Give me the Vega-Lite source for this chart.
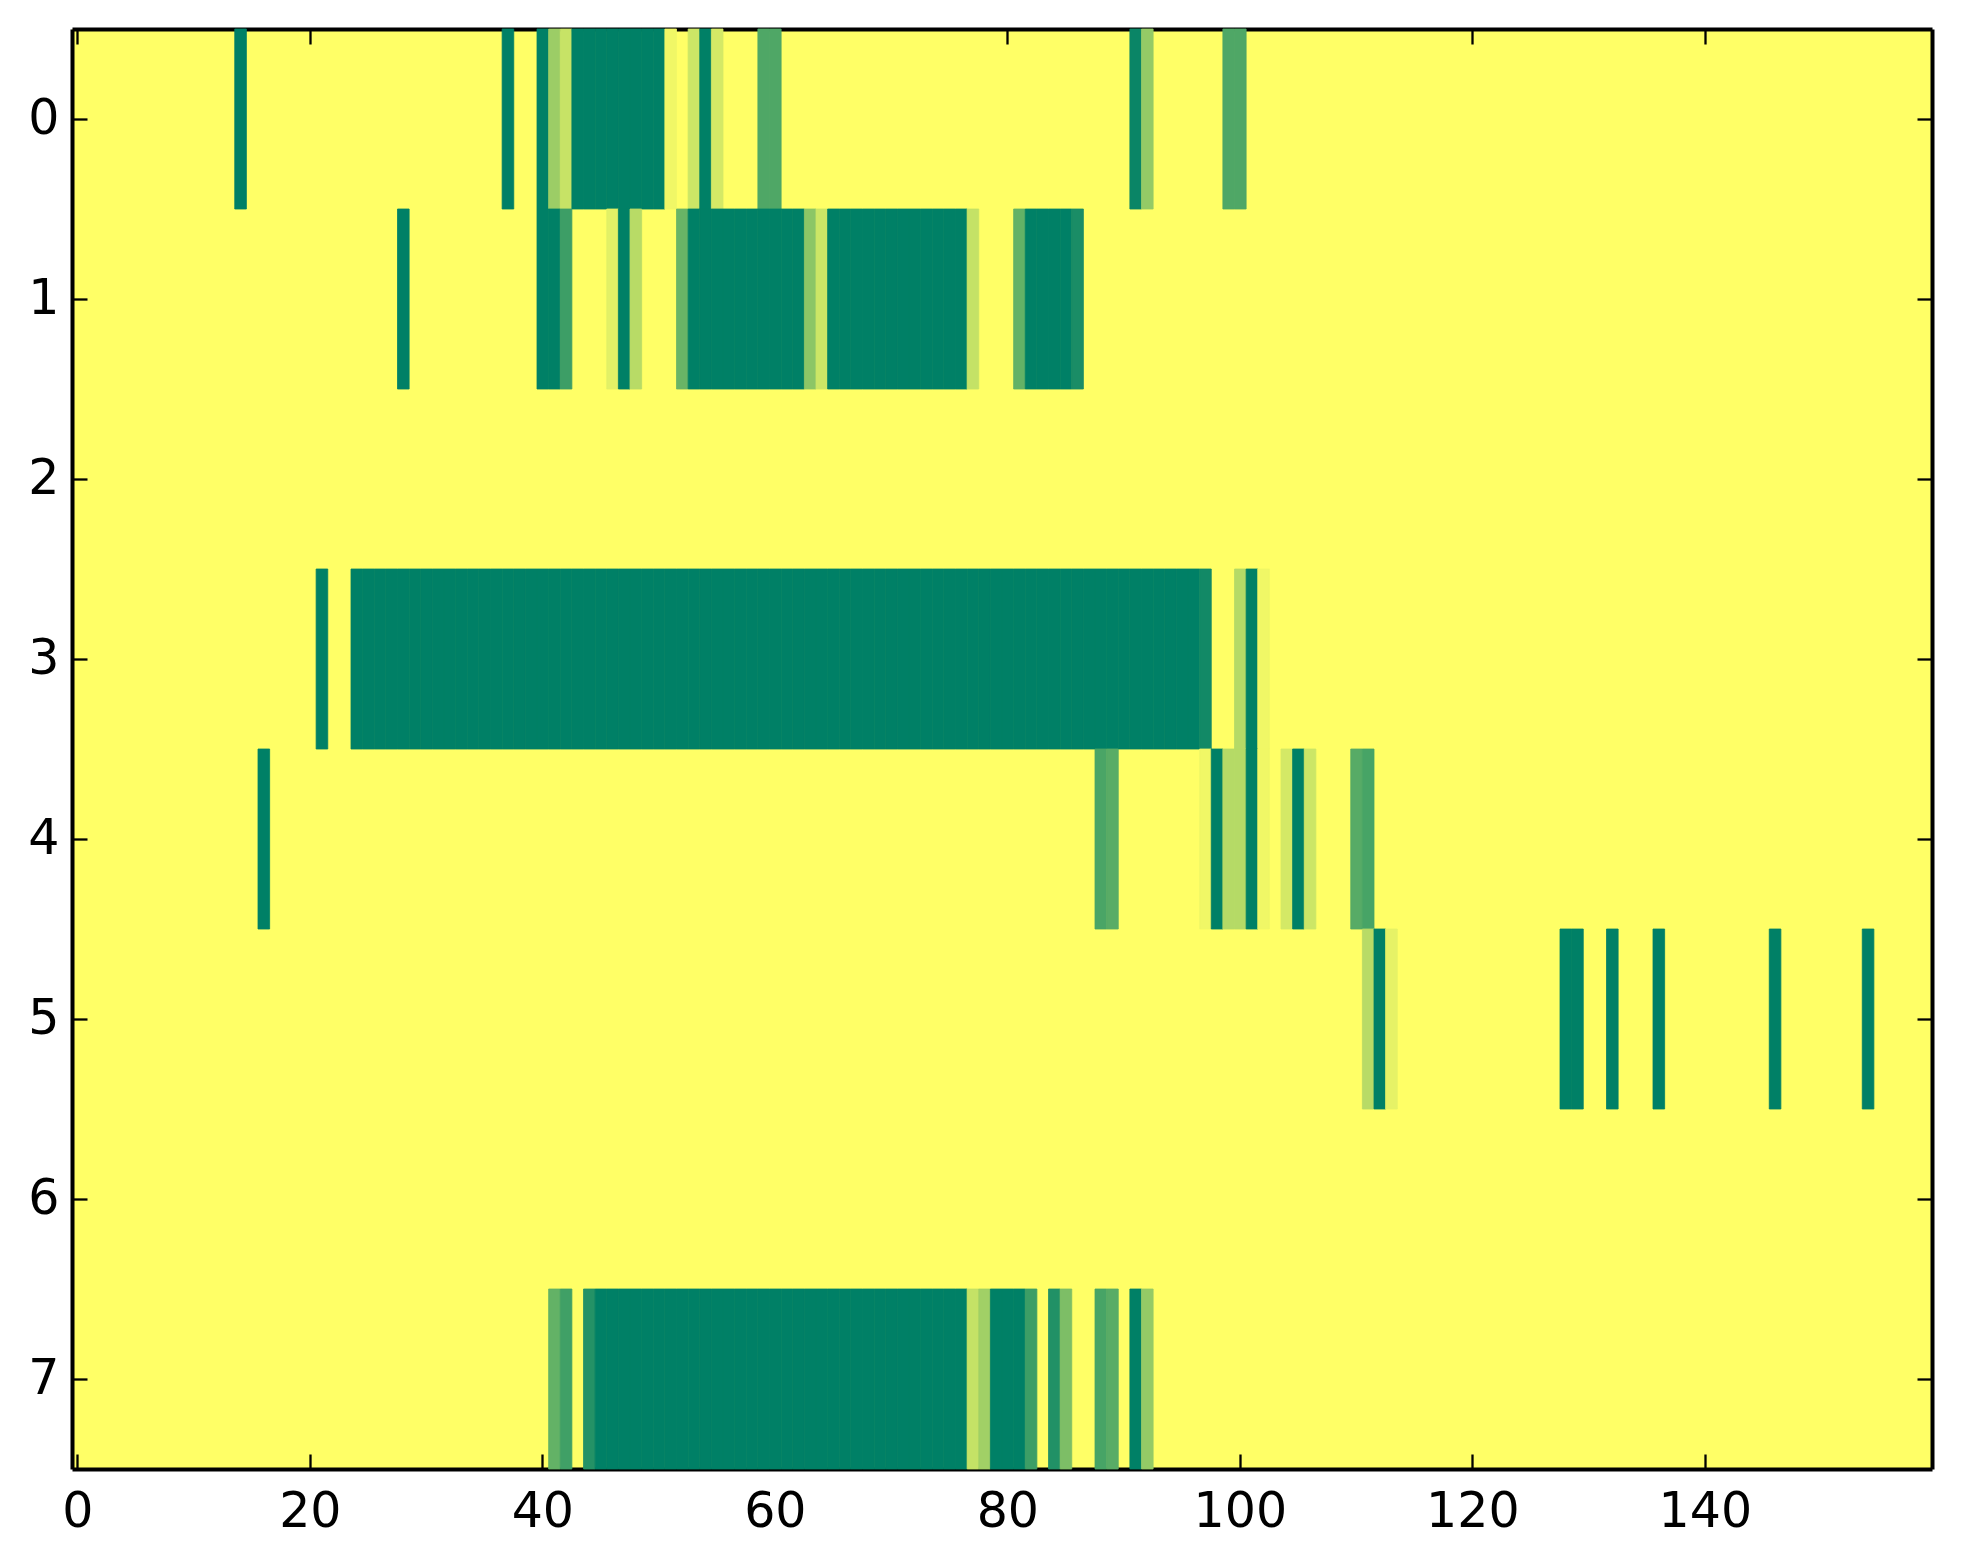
{
  "$schema": "https://vega.github.io/schema/vega-lite/v6.json",
  "width": 1860,
  "height": 1440,
  "autosize": {"type": "none"},
  "padding": {"left": 72, "top": 29, "right": 31, "bottom": 95},
  "config": {
    "font": "DejaVu Sans",
    "view": {"fill": "#ffff66", "stroke": null},
    "axis": {
      "grid": false, "domain": true, "domainColor": "black", "domainWidth": 4,
      "tickColor": "black", "tickWidth": 2.3, "tickSize": -15,
      "labelFont": "DejaVu Sans", "labelFontSize": 49, "labelColor": "black",
      "title": null, "zindex": 1
    }
  },
  "data": {"values": [
    {"row":0,"col":14,"value":1},{"row":0,"col":37,"value":1},{"row":0,"col":40,"value":1},{"row":0,"col":41,"value":0.39},{"row":0,"col":42,"value":0.22},
    {"row":0,"col":43,"value":1},{"row":0,"col":44,"value":1},{"row":0,"col":45,"value":1},{"row":0,"col":46,"value":1},{"row":0,"col":47,"value":1},{"row":0,"col":48,"value":1},{"row":0,"col":49,"value":1},{"row":0,"col":50,"value":1},
    {"row":0,"col":51,"value":0.06},{"row":0,"col":53,"value":0.2},{"row":0,"col":54,"value":1},{"row":0,"col":55,"value":0.17},{"row":0,"col":59,"value":0.69},{"row":0,"col":60,"value":0.69},
    {"row":0,"col":91,"value":0.96},{"row":0,"col":92,"value":0.42},{"row":0,"col":99,"value":0.69},{"row":0,"col":100,"value":0.69},

    {"row":1,"col":28,"value":1},{"row":1,"col":40,"value":1},{"row":1,"col":41,"value":1},{"row":1,"col":42,"value":0.76},{"row":1,"col":46,"value":0.11},{"row":1,"col":47,"value":1},{"row":1,"col":48,"value":0.28},{"row":1,"col":52,"value":0.59},
    {"row":1,"col":53,"value":1},{"row":1,"col":54,"value":1},{"row":1,"col":55,"value":1},{"row":1,"col":56,"value":1},{"row":1,"col":57,"value":1},{"row":1,"col":58,"value":1},{"row":1,"col":59,"value":1},{"row":1,"col":60,"value":1},{"row":1,"col":61,"value":1},{"row":1,"col":62,"value":1},
    {"row":1,"col":63,"value":0.45},{"row":1,"col":64,"value":0.2},
    {"row":1,"col":65,"value":1},{"row":1,"col":66,"value":1},{"row":1,"col":67,"value":1},{"row":1,"col":68,"value":1},{"row":1,"col":69,"value":1},{"row":1,"col":70,"value":1},{"row":1,"col":71,"value":1},{"row":1,"col":72,"value":1},{"row":1,"col":73,"value":1},{"row":1,"col":74,"value":1},{"row":1,"col":75,"value":1},{"row":1,"col":76,"value":1},
    {"row":1,"col":77,"value":0.23},{"row":1,"col":81,"value":0.61},{"row":1,"col":82,"value":1},{"row":1,"col":83,"value":1},{"row":1,"col":84,"value":1},{"row":1,"col":85,"value":1},{"row":1,"col":86,"value":0.9},

    {"row":3,"col":21,"value":1},
    {"row":3,"col":24,"value":1},{"row":3,"col":25,"value":1},{"row":3,"col":26,"value":1},{"row":3,"col":27,"value":1},{"row":3,"col":28,"value":1},{"row":3,"col":29,"value":1},{"row":3,"col":30,"value":1},{"row":3,"col":31,"value":1},{"row":3,"col":32,"value":1},{"row":3,"col":33,"value":1},
    {"row":3,"col":34,"value":1},{"row":3,"col":35,"value":1},{"row":3,"col":36,"value":1},{"row":3,"col":37,"value":1},{"row":3,"col":38,"value":1},{"row":3,"col":39,"value":1},{"row":3,"col":40,"value":1},{"row":3,"col":41,"value":1},{"row":3,"col":42,"value":1},{"row":3,"col":43,"value":1},
    {"row":3,"col":44,"value":1},{"row":3,"col":45,"value":1},{"row":3,"col":46,"value":1},{"row":3,"col":47,"value":1},{"row":3,"col":48,"value":1},{"row":3,"col":49,"value":1},{"row":3,"col":50,"value":1},{"row":3,"col":51,"value":1},{"row":3,"col":52,"value":1},{"row":3,"col":53,"value":1},
    {"row":3,"col":54,"value":1},{"row":3,"col":55,"value":1},{"row":3,"col":56,"value":1},{"row":3,"col":57,"value":1},{"row":3,"col":58,"value":1},{"row":3,"col":59,"value":1},{"row":3,"col":60,"value":1},{"row":3,"col":61,"value":1},{"row":3,"col":62,"value":1},{"row":3,"col":63,"value":1},
    {"row":3,"col":64,"value":1},{"row":3,"col":65,"value":1},{"row":3,"col":66,"value":1},{"row":3,"col":67,"value":1},{"row":3,"col":68,"value":1},{"row":3,"col":69,"value":1},{"row":3,"col":70,"value":1},{"row":3,"col":71,"value":1},{"row":3,"col":72,"value":1},{"row":3,"col":73,"value":1},
    {"row":3,"col":74,"value":1},{"row":3,"col":75,"value":1},{"row":3,"col":76,"value":1},{"row":3,"col":77,"value":1},{"row":3,"col":78,"value":1},{"row":3,"col":79,"value":1},{"row":3,"col":80,"value":1},{"row":3,"col":81,"value":1},{"row":3,"col":82,"value":1},{"row":3,"col":83,"value":1},
    {"row":3,"col":84,"value":1},{"row":3,"col":85,"value":1},{"row":3,"col":86,"value":1},{"row":3,"col":87,"value":1},{"row":3,"col":88,"value":1},{"row":3,"col":89,"value":1},{"row":3,"col":90,"value":1},{"row":3,"col":91,"value":1},{"row":3,"col":92,"value":1},{"row":3,"col":93,"value":1},
    {"row":3,"col":94,"value":1},{"row":3,"col":95,"value":1},{"row":3,"col":96,"value":1},
    {"row":3,"col":97,"value":0.93},{"row":3,"col":100,"value":0.29},{"row":3,"col":101,"value":1},{"row":3,"col":102,"value":0.06},

    {"row":4,"col":16,"value":1},{"row":4,"col":88,"value":0.71},{"row":4,"col":89,"value":0.65},{"row":4,"col":97,"value":0.06},{"row":4,"col":98,"value":1},{"row":4,"col":99,"value":0.29},{"row":4,"col":100,"value":0.29},
    {"row":4,"col":101,"value":1},{"row":4,"col":102,"value":0.06},{"row":4,"col":104,"value":0.17},{"row":4,"col":105,"value":1},{"row":4,"col":106,"value":0.2},{"row":4,"col":110,"value":0.66},{"row":4,"col":111,"value":0.72},

    {"row":5,"col":111,"value":0.28},{"row":5,"col":112,"value":1},{"row":5,"col":113,"value":0.1},{"row":5,"col":128,"value":1},{"row":5,"col":129,"value":1},{"row":5,"col":132,"value":1},{"row":5,"col":136,"value":1},{"row":5,"col":146,"value":1},{"row":5,"col":154,"value":1},

    {"row":7,"col":41,"value":0.61},{"row":7,"col":42,"value":0.75},{"row":7,"col":44,"value":0.86},
    {"row":7,"col":45,"value":1},{"row":7,"col":46,"value":1},{"row":7,"col":47,"value":1},{"row":7,"col":48,"value":1},{"row":7,"col":49,"value":1},{"row":7,"col":50,"value":1},{"row":7,"col":51,"value":1},{"row":7,"col":52,"value":1},
    {"row":7,"col":53,"value":1},{"row":7,"col":54,"value":1},{"row":7,"col":55,"value":1},{"row":7,"col":56,"value":1},{"row":7,"col":57,"value":1},{"row":7,"col":58,"value":1},{"row":7,"col":59,"value":1},{"row":7,"col":60,"value":1},
    {"row":7,"col":61,"value":1},{"row":7,"col":62,"value":1},{"row":7,"col":63,"value":1},{"row":7,"col":64,"value":1},{"row":7,"col":65,"value":1},{"row":7,"col":66,"value":1},{"row":7,"col":67,"value":1},{"row":7,"col":68,"value":1},
    {"row":7,"col":69,"value":1},{"row":7,"col":70,"value":1},{"row":7,"col":71,"value":1},{"row":7,"col":72,"value":1},{"row":7,"col":73,"value":1},{"row":7,"col":74,"value":1},{"row":7,"col":75,"value":1},{"row":7,"col":76,"value":1},
    {"row":7,"col":77,"value":0.23},{"row":7,"col":78,"value":0.37},{"row":7,"col":79,"value":1},{"row":7,"col":80,"value":1},{"row":7,"col":81,"value":1},{"row":7,"col":82,"value":0.76},
    {"row":7,"col":84,"value":0.87},{"row":7,"col":85,"value":0.51},{"row":7,"col":88,"value":0.72},{"row":7,"col":89,"value":0.65},{"row":7,"col":91,"value":1},{"row":7,"col":92,"value":0.42}
  ]},
  "layer": [
    {
      "mark": {"type": "rect", "strokeWidth": 0.8},
      "encoding": {
        "x": {
          "field": "col", "type": "ordinal",
          "scale": {"domain": [0,1,2,3,4,5,6,7,8,9,10,11,12,13,14,15,16,17,18,19,20,21,22,23,24,25,26,27,28,29,30,31,32,33,34,35,36,37,38,39,40,41,42,43,44,45,46,47,48,49,50,51,52,53,54,55,56,57,58,59,60,61,62,63,64,65,66,67,68,69,70,71,72,73,74,75,76,77,78,79,80,81,82,83,84,85,86,87,88,89,90,91,92,93,94,95,96,97,98,99,100,101,102,103,104,105,106,107,108,109,110,111,112,113,114,115,116,117,118,119,120,121,122,123,124,125,126,127,128,129,130,131,132,133,134,135,136,137,138,139,140,141,142,143,144,145,146,147,148,149,150,151,152,153,154,155,156,157,158,159], "paddingInner": 0, "paddingOuter": 0},
          "axis": {"orient": "bottom", "values": [0,20,40,60,80,100,120,140], "labelAngle": 0, "labelPadding": 33}
        },
        "y": {
          "field": "row", "type": "ordinal",
          "scale": {"domain": [0,1,2,3,4,5,6,7], "paddingInner": 0, "paddingOuter": 0},
          "axis": {"orient": "left", "labelPadding": 28}
        },
        "color": {"field": "value", "type": "quantitative", "scale": {"domain": [0,1], "range": ["#ffff66", "#008066"], "interpolate": "rgb"}, "legend": null},
        "stroke": {"field": "value", "type": "quantitative", "scale": {"domain": [0,1], "range": ["#ffff66", "#008066"], "interpolate": "rgb"}, "legend": null}
      }
    },
    {
      "mark": {"type": "rect", "opacity": 0},
      "encoding": {
        "x": {"field": "col", "type": "ordinal", "axis": {"orient": "top", "values": [0,20,40,60,80,100,120,140], "labels": false}},
        "y": {"field": "row", "type": "ordinal", "axis": {"orient": "right", "labels": false}}
      }
    }
  ],
  "resolve": {"axis": {"x": "independent", "y": "independent"}}
}
